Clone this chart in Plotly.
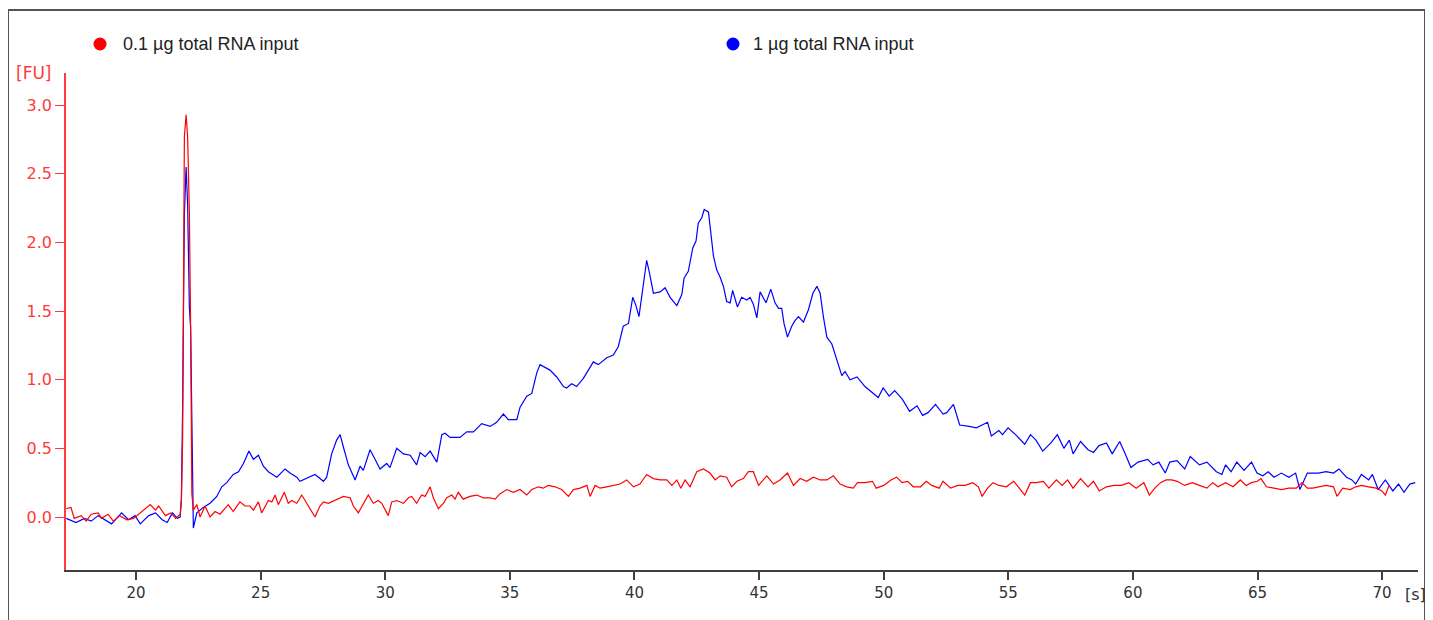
import plotly.graph_objects as go

# ---------------- data (time in s, fluorescence in FU) ----------------
red_name = "0.1 µg total RNA input"
blue_name = "1 µg total RNA input"

red_t = [17.20, 17.39, 17.52, 17.80, 18.00, 18.20, 18.48, 18.61, 18.88, 19.09, 19.35, 19.63, 19.90,
         20.10, 20.30, 20.57, 20.78, 20.91, 21.18, 21.39, 21.59, 21.77, 21.82, 21.87, 21.94, 22.01,
         22.07, 22.14, 22.19, 22.24, 22.30, 22.44, 22.57, 22.77, 22.97, 23.17, 23.37, 23.70, 23.90,
         24.17, 24.37, 24.57, 24.71, 24.91, 25.04, 25.31, 25.45, 25.58, 25.71, 25.95, 26.11, 26.25,
         26.45, 26.65, 26.85, 27.18, 27.38, 27.52, 27.72, 27.99, 28.32, 28.59, 28.72, 28.92, 29.12,
         29.32, 29.52, 29.72, 29.86, 30.12, 30.26, 30.46, 30.73, 30.93, 31.06, 31.26, 31.46, 31.60,
         31.80, 31.93, 32.13, 32.33, 32.47, 32.67, 32.80, 32.93, 33.13, 33.40, 33.67, 33.94, 34.21,
         34.41, 34.61, 34.88, 35.14, 35.41, 35.68, 35.88, 36.14, 36.34, 36.54, 36.81, 37.08, 37.35,
         37.55, 37.82, 38.09, 38.22, 38.42, 38.62, 38.89, 39.15, 39.42, 39.69, 39.96, 40.22, 40.49,
         40.76, 41.03, 41.30, 41.50, 41.70, 41.86, 42.03, 42.23, 42.50, 42.77, 43.03, 43.24, 43.44,
         43.70, 43.90, 44.11, 44.37, 44.57, 44.77, 44.98, 45.31, 45.58, 45.84, 46.14, 46.38, 46.65,
         46.91, 47.18, 47.45, 47.72, 47.98, 48.25, 48.52, 48.78, 48.95, 49.25, 49.55, 49.70, 50.00,
         50.29, 50.52, 50.74, 50.96, 51.19, 51.48, 51.71, 51.93, 52.23, 52.38, 52.68, 52.98, 53.27,
         53.57, 53.80, 53.95, 54.17, 54.39, 54.62, 54.92, 55.22, 55.44, 55.66, 55.89, 56.11, 56.41,
         56.63, 56.93, 57.16, 57.38, 57.60, 57.90, 58.20, 58.42, 58.65, 58.94, 59.24, 59.54, 59.84,
         60.13, 60.44, 60.66, 60.88, 61.11, 61.33, 61.56, 61.78, 62.08, 62.38, 62.67, 62.97, 63.20,
         63.42, 63.72, 64.02, 64.31, 64.54, 64.76, 64.99, 65.14, 65.36, 65.66, 65.96, 66.26, 66.56,
         66.78, 67.00, 67.22, 67.45, 67.75, 68.05, 68.19, 68.42, 68.72, 68.94, 69.17, 69.46, 69.76,
         69.99, 70.13, 70.28]
red_fu = [0.06, 0.07, -0.01, 0.01, -0.03, 0.02, 0.03, -0.01, 0.02, -0.03, 0.01, -0.02, -0.01,
          0.02, 0.05, 0.09, 0.05, 0.08, 0.01, 0.03, -0.01, 0.02, 0.12, 0.57, 2.77, 2.93,
          2.77, 2.22, 1.39, 0.17, 0.05, 0.09, 0.00, 0.08, 0.00, 0.04, 0.02, 0.09, 0.04,
          0.11, 0.08, 0.08, 0.05, 0.11, 0.03, 0.12, 0.11, 0.16, 0.09, 0.18, 0.10, 0.12,
          0.10, 0.16, 0.10, 0.00, 0.08, 0.11, 0.10, 0.12, 0.15, 0.14, 0.08, 0.03, 0.10,
          0.16, 0.10, 0.12, 0.10, 0.01, 0.11, 0.12, 0.10, 0.14, 0.15, 0.10, 0.16, 0.15,
          0.22, 0.14, 0.06, 0.10, 0.14, 0.16, 0.13, 0.18, 0.13, 0.15, 0.16, 0.14, 0.14,
          0.13, 0.17, 0.20, 0.18, 0.20, 0.16, 0.20, 0.22, 0.21, 0.23, 0.22, 0.20, 0.15,
          0.20, 0.21, 0.23, 0.15, 0.23, 0.21, 0.22, 0.23, 0.24, 0.27, 0.22, 0.24, 0.31,
          0.28, 0.27, 0.27, 0.23, 0.27, 0.21, 0.27, 0.22, 0.33, 0.35, 0.32, 0.27, 0.30,
          0.29, 0.22, 0.26, 0.28, 0.33, 0.33, 0.23, 0.30, 0.24, 0.27, 0.32, 0.23, 0.28,
          0.26, 0.29, 0.27, 0.27, 0.30, 0.24, 0.22, 0.21, 0.25, 0.25, 0.26, 0.21, 0.23,
          0.27, 0.29, 0.25, 0.26, 0.22, 0.22, 0.26, 0.23, 0.21, 0.26, 0.21, 0.23, 0.23,
          0.25, 0.22, 0.15, 0.21, 0.25, 0.23, 0.22, 0.26, 0.21, 0.16, 0.25, 0.25, 0.26,
          0.21, 0.27, 0.23, 0.27, 0.21, 0.28, 0.22, 0.26, 0.19, 0.22, 0.23, 0.23, 0.25,
          0.21, 0.25, 0.16, 0.21, 0.25, 0.27, 0.27, 0.26, 0.23, 0.25, 0.23, 0.21, 0.25,
          0.22, 0.25, 0.22, 0.27, 0.23, 0.25, 0.26, 0.28, 0.22, 0.21, 0.20, 0.21, 0.21,
          0.25, 0.21, 0.21, 0.22, 0.23, 0.22, 0.15, 0.21, 0.20, 0.22, 0.23, 0.22, 0.21,
          0.19, 0.16, 0.23]

blue_t = [17.20, 17.32, 17.59, 17.93, 18.20, 18.48, 18.74, 19.02, 19.22, 19.42, 19.70, 19.96, 20.17,
          20.51, 20.78, 21.05, 21.25, 21.46, 21.66, 21.77, 21.82, 21.87, 21.94, 22.01, 22.07, 22.14,
          22.19, 22.24, 22.30, 22.44, 22.70, 22.97, 23.24, 23.44, 23.64, 23.90, 24.11, 24.31, 24.53,
          24.71, 24.91, 25.11, 25.31, 25.65, 25.98, 26.18, 26.45, 26.58, 26.85, 27.18, 27.32, 27.52,
          27.65, 27.85, 28.05, 28.19, 28.32, 28.52, 28.79, 28.99, 29.12, 29.39, 29.59, 29.79, 30.06,
          30.19, 30.46, 30.73, 31.00, 31.26, 31.40, 31.60, 31.80, 32.07, 32.27, 32.40, 32.60, 33.00,
          33.27, 33.54, 33.87, 34.21, 34.47, 34.74, 34.94, 35.28, 35.41, 35.68, 35.88, 36.08, 36.21,
          36.61, 36.88, 37.15, 37.28, 37.48, 37.68, 37.95, 38.15, 38.35, 38.55, 38.89, 39.15, 39.35,
          39.55, 39.76, 39.93, 40.06, 40.18, 40.33, 40.49, 40.60, 40.76, 41.03, 41.23, 41.43, 41.70,
          41.90, 41.99, 42.16, 42.34, 42.47, 42.56, 42.70, 42.80, 42.97, 43.10, 43.17, 43.30, 43.43,
          43.57, 43.70, 43.84, 43.94, 44.13, 44.30, 44.51, 44.64, 44.77, 44.91, 45.04, 45.17, 45.28,
          45.47, 45.64, 45.78, 45.91, 46.00, 46.14, 46.31, 46.44, 46.58, 46.78, 46.98, 47.16, 47.32,
          47.45, 47.58, 47.72, 47.92, 48.12, 48.32, 48.45, 48.65, 48.93, 49.25, 49.78, 49.98, 50.22,
          50.44, 50.74, 51.04, 51.34, 51.56, 51.78, 52.08, 52.38, 52.53, 52.80, 53.05, 53.43, 53.72,
          54.17, 54.32, 54.62, 54.77, 54.99, 55.29, 55.66, 55.89, 56.11, 56.38, 56.71, 56.97, 57.23,
          57.45, 57.60, 57.90, 58.20, 58.42, 58.64, 58.94, 59.17, 59.47, 59.69, 59.92, 60.21, 60.59,
          60.81, 61.04, 61.30, 61.48, 61.77, 62.08, 62.30, 62.67, 62.97, 63.35, 63.57, 63.72, 63.94,
          64.17, 64.46, 64.76, 64.98, 65.21, 65.43, 65.66, 65.96, 66.26, 66.53, 66.70, 67.00, 67.45,
          67.75, 68.05, 68.27, 68.57, 68.79, 68.94, 69.17, 69.46, 69.61, 69.84, 70.13, 70.43, 70.66,
          70.88, 71.11, 71.33]
blue_fu = [-0.01, -0.02, -0.04, -0.01, -0.03, 0.01, -0.02, -0.05, -0.01, 0.03, -0.02, 0.01, -0.05,
           0.01, 0.03, -0.02, -0.04, 0.03, -0.01, 0.00, 0.13, 0.80, 2.20, 2.55, 2.28, 1.53,
           1.38, 0.75, -0.08, 0.03, 0.07, 0.10, 0.15, 0.22, 0.25, 0.31, 0.33, 0.39, 0.48,
           0.42, 0.45, 0.37, 0.33, 0.29, 0.35, 0.32, 0.29, 0.26, 0.28, 0.31, 0.29, 0.26,
           0.29, 0.46, 0.56, 0.60, 0.51, 0.38, 0.27, 0.37, 0.34, 0.49, 0.42, 0.35, 0.39,
           0.36, 0.50, 0.46, 0.45, 0.38, 0.47, 0.44, 0.48, 0.40, 0.60, 0.61, 0.58, 0.58,
           0.62, 0.62, 0.68, 0.66, 0.69, 0.75, 0.71, 0.71, 0.80, 0.88, 0.90, 1.05, 1.11,
           1.07, 1.02, 0.95, 0.94, 0.97, 0.95, 1.01, 1.07, 1.13, 1.11, 1.16, 1.18, 1.24,
           1.39, 1.41, 1.60, 1.54, 1.46, 1.65, 1.87, 1.78, 1.63, 1.64, 1.67, 1.60, 1.54,
           1.62, 1.74, 1.79, 1.96, 2.01, 2.14, 2.18, 2.24, 2.22, 2.03, 1.90, 1.80, 1.75,
           1.68, 1.57, 1.56, 1.65, 1.53, 1.60, 1.58, 1.60, 1.55, 1.45, 1.64, 1.60, 1.56,
           1.66, 1.56, 1.52, 1.52, 1.41, 1.31, 1.39, 1.43, 1.46, 1.42, 1.51, 1.63, 1.68,
           1.63, 1.46, 1.31, 1.26, 1.14, 1.03, 1.06, 1.00, 1.02, 0.95, 0.87, 0.94, 0.88,
           0.92, 0.86, 0.77, 0.81, 0.74, 0.76, 0.82, 0.75, 0.76, 0.82, 0.67, 0.66, 0.65,
           0.69, 0.59, 0.63, 0.60, 0.65, 0.60, 0.53, 0.60, 0.56, 0.48, 0.54, 0.60, 0.50,
           0.56, 0.46, 0.55, 0.49, 0.47, 0.52, 0.54, 0.46, 0.55, 0.46, 0.36, 0.40, 0.42,
           0.38, 0.40, 0.32, 0.40, 0.41, 0.35, 0.44, 0.38, 0.40, 0.33, 0.31, 0.38, 0.33,
           0.40, 0.34, 0.40, 0.32, 0.30, 0.33, 0.29, 0.32, 0.29, 0.32, 0.20, 0.32, 0.32,
           0.33, 0.32, 0.35, 0.29, 0.27, 0.24, 0.31, 0.27, 0.31, 0.20, 0.27, 0.19, 0.24,
           0.18, 0.24, 0.25]

x_ticks = [20, 25, 30, 35, 40, 45, 50, 55, 60, 65, 70]
y_ticks = [0.0, 0.5, 1.0, 1.5, 2.0, 2.5, 3.0]
y_tick_text = ["0.0", "0.5", "1.0", "1.5", "2.0", "2.5", "3.0"]
x_unit = "[s]"
y_unit = "[FU]"

# ---------------- figure ----------------
RED = "#ff0000"
BLUE = "#0000ff"
AXRED = "#ff3a3a"

fig = go.Figure()
fig.add_trace(go.Scatter(x=blue_t, y=blue_fu, mode="lines", name=blue_name,
                         line=dict(color=BLUE, width=1.2), showlegend=False))
fig.add_trace(go.Scatter(x=red_t, y=red_fu, mode="lines", name=red_name,
                         line=dict(color=RED, width=1.2), showlegend=False))

# the html page puts the figure 8 px in from the top-left corner
OFF = 8
W, H = 1433 - OFF, 620 - OFF
PLOT_L, PLOT_R, PLOT_T, PLOT_B = 66, 1418, 73, 570   # plot area in screen pixels
L = PLOT_L - OFF
T = PLOT_T - OFF
R = W - (PLOT_R - OFF)
B = H - (PLOT_B - OFF)
pw, ph = PLOT_R - PLOT_L, PLOT_B - PLOT_T


def px(xs):
    return (xs - PLOT_L) / pw


def py(ys):
    return (PLOT_B - ys) / ph


fig.update_layout(
    width=W, height=H,
    margin=dict(l=L, r=R, t=T, b=B, pad=0),
    paper_bgcolor="white", plot_bgcolor="white",
    font=dict(family="DejaVu Sans", size=15, color="#333333"),
    xaxis=dict(range=[17.19, 71.44], tickvals=x_ticks, ticks="outside", ticklen=8,
               tickcolor="#404040", tickwidth=1.5, showline=True, linecolor="#404040",
               linewidth=1.5, showgrid=False, zeroline=False,
               tickfont=dict(family="DejaVu Sans", size=15, color="#333333")),
    yaxis=dict(range=[-0.386, 3.234], tickvals=y_ticks, ticktext=y_tick_text,
               ticks="outside", ticklen=9, tickcolor=AXRED, tickwidth=1.2,
               showline=True, linecolor=AXRED, linewidth=1.5, showgrid=False,
               zeroline=False,
               tickfont=dict(family="DejaVu Sans", size=16, color=AXRED)),
)

# outer frame
fig.add_shape(type="rect", xref="paper", yref="paper",
              x0=px(8), x1=px(1425), y0=py(660), y1=py(10),
              line=dict(color="#555555", width=2), fillcolor="rgba(0,0,0,0)", layer="below")

# legend built from circles + labels
for xdot, xtxt, col, label in [(100, 121, RED, red_name), (733, 751, BLUE, blue_name)]:
    fig.add_shape(type="circle", xref="paper", yref="paper",
                  xsizemode="pixel", ysizemode="pixel",
                  xanchor=px(xdot), yanchor=py(44), x0=-6.5, x1=6.5, y0=-6.5, y1=6.5,
                  fillcolor=col, line=dict(color=col, width=0))
    fig.add_annotation(xref="paper", yref="paper", x=px(xtxt), y=py(44), text=label,
                       showarrow=False, xanchor="left", yanchor="middle",
                       font=dict(family="Liberation Sans", size=18, color="#222222"))

# unit labels
fig.add_annotation(xref="paper", yref="paper", x=px(54), y=py(73), text=y_unit,
                   showarrow=False, xanchor="right", yanchor="middle",
                   font=dict(family="DejaVu Sans", size=17, color=AXRED))
fig.add_annotation(xref="paper", yref="paper", x=px(1403), y=py(594), text=x_unit,
                   showarrow=False, xanchor="left", yanchor="middle",
                   font=dict(family="DejaVu Sans", size=16, color="#333333"))

fig.write_html("out.html")
